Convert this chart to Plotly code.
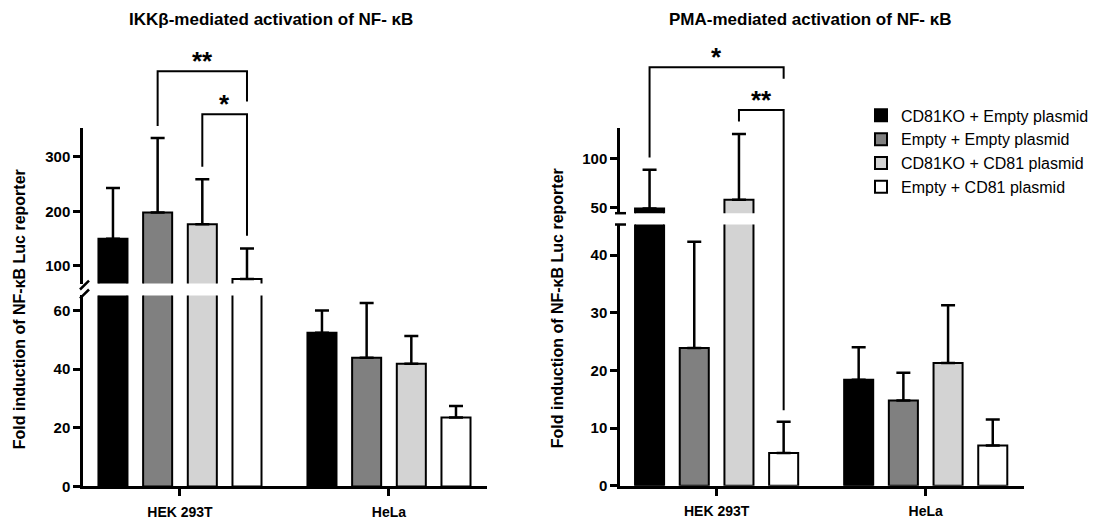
import plotly.graph_objects as go

# ---- data -------------------------------------------------------------
categories = ["HEK 293T", "HeLa"]
series_names = ["CD81KO + Empty plasmid", "Empty + Empty plasmid",
                "CD81KO + CD81 plasmid", "Empty + CD81 plasmid"]
series_colors = ["#000000", "#808080", "#d3d3d3", "#ffffff"]

# IKKβ-mediated activation: mean fold induction and upper SD
ikk_cd81ko_empty = [150, 52.4]
ikk_empty_empty = [198, 43.9]
ikk_cd81ko_cd81 = [176.5, 41.8]
ikk_empty_cd81 = [76, 23.5]
ikk_sd_cd81ko_empty = [93, 7.6]
ikk_sd_empty_empty = [136.5, 18.6]
ikk_sd_cd81ko_cd81 = [82.5, 9.5]
ikk_sd_empty_cd81 = [56, 3.9]

# PMA-mediated activation: mean fold induction and upper SD
pma_cd81ko_empty = [49.3, 18.4]
pma_empty_empty = [23.9, 14.8]
pma_cd81ko_cd81 = [58.3, 21.3]
pma_empty_cd81 = [5.7, 7.0]
pma_sd_cd81ko_empty = [39.7, 5.6]
pma_sd_empty_empty = [18.4, 4.8]
pma_sd_cd81ko_cd81 = [67.2, 10.0]
pma_sd_empty_cd81 = [5.4, 4.5]

ikk_means = [ikk_cd81ko_empty, ikk_empty_empty, ikk_cd81ko_cd81, ikk_empty_cd81]
ikk_sds = [ikk_sd_cd81ko_empty, ikk_sd_empty_empty, ikk_sd_cd81ko_cd81, ikk_sd_empty_cd81]
pma_means = [pma_cd81ko_empty, pma_empty_empty, pma_cd81ko_cd81, pma_empty_cd81]
pma_sds = [pma_sd_cd81ko_empty, pma_sd_empty_empty, pma_sd_cd81ko_cd81, pma_sd_empty_cd81]

# ---- layout constants -------------------------------------------------
W, H = 1098, 524
FONT = "Liberation Sans, Arial, Helvetica, sans-serif"
BARGAP = 0.145
BARGROUPGAP = 0.35
AXW = 2.5


def px_x(p):
    return p / W


def px_y(p):
    return 1 - p / H


fig = go.Figure()

# each panel: (x axis, lower y axis, upper y axis, means, sds)
panels = [
    ("x", "y", "y2", ikk_means, ikk_sds),
    ("x2", "y3", "y4", pma_means, pma_sds),
]

for p_idx, (xa, ylo, yhi, means, sds) in enumerate(panels):
    for ya in (ylo, yhi):
        for s in range(4):
            fig.add_trace(go.Bar(
                x=categories, y=means[s],
                xaxis=xa, yaxis=ya,
                name=series_names[s],
                legendgroup=series_names[s],
                showlegend=(p_idx == 0 and ya == ylo),
                marker=dict(color=series_colors[s],
                            line=dict(color="#000000", width=2)),
                error_y=dict(type="data", array=sds[s],
                             arrayminus=[0] * len(sds[s]),
                             symmetric=False, color="#000000",
                             thickness=2.5, width=7),
                hoverinfo="skip",
            ))

axis_common = dict(showline=True, linecolor="#000000", linewidth=AXW,
                   ticks="outside", ticklen=7, tickwidth=AXW,
                   tickcolor="#000000", showgrid=False, zeroline=False,
                   tickfont=dict(family=FONT, size=15, color="#000000",
                                 weight="bold"))
x_common = dict(axis_common, ticklabelstandoff=4)

fig.update_layout(
    width=W, height=H,
    margin=dict(l=0, r=0, t=0, b=0),
    paper_bgcolor="#ffffff", plot_bgcolor="#ffffff",
    barmode="group", bargap=BARGAP, bargroupgap=BARGROUPGAP,
    font=dict(family=FONT, color="#000000"),
    xaxis=dict(x_common, domain=[px_x(83), px_x(487)], anchor="y",
               range=[-0.464, 1.469], type="category",
               tickfont=dict(family=FONT, size=14, color="#000000",
                             weight="bold")),
    xaxis2=dict(x_common, domain=[px_x(620), px_x(1024)], anchor="y3",
                range=[-0.462, 1.47], type="category",
                tickfont=dict(family=FONT, size=14, color="#000000",
                              weight="bold")),
    yaxis=dict(axis_common, domain=[px_y(494), px_y(300)], anchor="x",
               range=[0, 65.1], tickvals=[0, 20, 40, 60]),
    yaxis2=dict(axis_common, domain=[px_y(288), px_y(130)], anchor="x",
                range=[67.5, 352.9], tickvals=[100, 200, 300]),
    yaxis3=dict(axis_common, domain=[px_y(493.3), px_y(228)], anchor="x2",
                range=[0, 45.3], tickvals=[0, 10, 20, 30, 40]),
    yaxis4=dict(axis_common, domain=[px_y(216.5), px_y(130)], anchor="x2",
                range=[44.5, 131.5], tickvals=[50, 100]),
    legend=dict(x=px_x(861), y=px_y(100), xanchor="left", yanchor="top",
                bgcolor="rgba(0,0,0,0)", tracegroupgap=0,
                font=dict(family=FONT, size=16, color="#000000")),
    showlegend=True,
)

# ---- titles -------------------------------------------------------------
annotations = [
    dict(text="IKKβ-mediated activation of NF- κB", x=px_x(271), y=px_y(20)),
    dict(text="PMA-mediated activation of NF- κB", x=px_x(810), y=px_y(20)),
]
for a in annotations:
    fig.add_annotation(xref="paper", yref="paper", showarrow=False,
                       xanchor="center", yanchor="middle",
                       font=dict(family=FONT, size=17, color="#000000",
                                 weight="bold"), **a)

for xpos, ypos in [(19, 314), (557, 313)]:
    fig.add_annotation(text="Fold induction of NF-κB Luc reporter",
                       xref="paper", yref="paper", x=px_x(xpos), y=px_y(ypos),
                       showarrow=False, textangle=-90,
                       xanchor="center", yanchor="middle",
                       font=dict(family=FONT, size=16, color="#000000",
                                 weight="bold"))

# ---- axis break marks ---------------------------------------------------
for y0, y1 in [(294, 285), (303, 294)]:
    fig.add_shape(type="line", xref="paper", yref="paper",
                  x0=px_x(80), x1=px_x(89), y0=px_y(y0), y1=px_y(y1),
                  line=dict(color="#000000", width=AXW))
for yb in (216.5, 228):
    fig.add_shape(type="line", xref="paper", yref="paper",
                  x0=px_x(615), x1=px_x(626), y0=px_y(yb), y1=px_y(yb),
                  line=dict(color="#000000", width=AXW))

# ---- significance brackets ------------------------------------------------
slot = (1 - BARGAP) / 4


def bar_center(cat, s):
    return cat + (s - 1.5) * slot


brackets = [
    # xref, cat, series a, series b, bar-top px, left leg end px, right leg end px, label
    ("x", 0, 1, 3, 72.3, 128, 103, "**"),
    ("x", 0, 2, 3, 116, 169.3, 239.3, "*"),
    ("x2", 0, 0, 3, 68.3, 160, 80, "*"),
    ("x2", 0, 2, 3, 111.7, 123.3, 416.7, "**"),
]
for xref, cat, sa, sb, ytop, yl, yr, label in brackets:
    xa_ = bar_center(cat, sa)
    xb_ = bar_center(cat, sb)
    path = (f"M {xa_},{px_y(yl)} L {xa_},{px_y(ytop)} "
            f"L {xb_},{px_y(ytop)} L {xb_},{px_y(yr)}")
    fig.add_shape(type="path", xref=xref, yref="paper", path=path,
                  line=dict(color="#000000", width=2))
    fig.add_annotation(text=label, xref=xref, yref="paper",
                       x=(xa_ + xb_) / 2, y=px_y(ytop + 7),
                       showarrow=False, xanchor="center", yanchor="bottom",
                       font=dict(family=FONT, size=26, color="#000000",
                                 weight="bold"))

fig.write_html("out.html")
